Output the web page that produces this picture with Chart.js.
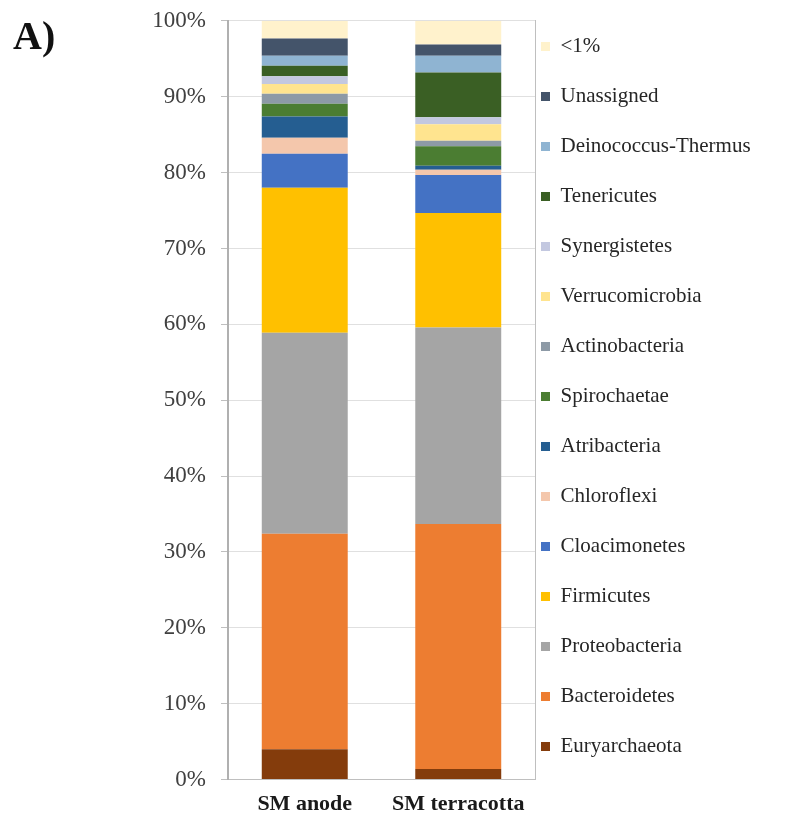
<!DOCTYPE html>
<html>
<head>
<meta charset="utf-8">
<script src="https://cdn.jsdelivr.net/npm/chart.js@4.4.1/dist/chart.umd.min.js"></script>
<style>
  html, body { margin: 0; padding: 0; background: #fff; }
  #wrap { position: relative; width: 791px; height: 822px; }
  #panel { position: absolute; left: 13px; top: 12px; font: bold 40px "Liberation Serif", serif; color: #111; }
  canvas { position: absolute; left: 0; top: 0; }
</style>
</head>
<body>
<div id="wrap">
  <canvas id="phyla" width="791" height="822"></canvas>
  <div id="panel">A)</div>
</div>
<script>
const samples = ["SM anode", "SM terracotta"];

// phyla from the bottom of the stack upwards
const phyla = [
  "Euryarchaeota", "Bacteroidetes", "Proteobacteria", "Firmicutes", "Cloacimonetes",
  "Chloroflexi", "Atribacteria", "Spirochaetae", "Actinobacteria", "Verrucomicrobia",
  "Synergistetes", "Tenericutes", "Deinococcus-Thermus", "Unassigned", "<1%"
];

// relative abundance (%) per sample, same order as phyla
const anode      = [4.0, 28.4, 26.5, 19.1, 4.5, 2.1, 2.8, 1.7, 1.3, 1.3, 1.0, 1.4, 1.3, 2.3, 2.3];
const terracotta = [1.4, 32.3, 25.9, 15.1, 5.0, 0.7, 0.5, 2.6, 0.7, 2.2, 0.9, 5.9, 2.2, 1.5, 3.1];

const colors = [
  "#843c0c", "#ed7d31", "#a5a5a5", "#ffc000", "#4472c4",
  "#f4c7ac", "#255e91", "#4b7d32", "#8d9aa6", "#ffe48f",
  "#c3c8e0", "#3a5f24", "#8fb4d2", "#44546a", "#fff2cc"
];

const yTicks = [0, 10, 20, 30, 40, 50, 60, 70, 80, 90, 100];

const datasets = phyla.map((name, i) => ({
  label: name,
  data: [anode[i], terracotta[i]],
  backgroundColor: colors[i],
  borderWidth: 0,
  barPercentage: 0.56,
  categoryPercentage: 1.0
}));

// fixed legend width so the plot ends at the right place,
// then pull the legend block in next to the plot border
const legendPlace = {
  id: "legendPlace",
  beforeInit(chart) {
    const fit = chart.legend.fit;
    chart.legend.fit = function () {
      fit.call(chart.legend);
      this.width = 248;
    };
  },
  afterLayout(chart) {
    chart.legend.left = 512;
    chart.legend.top = 7;
  }
};

new Chart(document.getElementById("phyla"), {
  type: "bar",
  data: { labels: samples, datasets },
  options: {
    responsive: false,
    animation: false,
    layout: { padding: { top: 0, left: 0, right: 0, bottom: 0 } },
    scales: {
      x: {
        stacked: true,
        grid: { display: false },
        border: { color: "#bfbfbf" },
        ticks: { color: "#1a1a1a", font: { family: "Liberation Serif", size: 22, weight: "bold", lineHeight: 0.93 }, padding: 7 }
      },
      y: {
        stacked: true,
        min: 0,
        max: 100,
        afterBuildTicks(axis) { axis.ticks = yTicks.map(v => ({ value: v })); },
        afterFit(axis) { axis.width = 228; },
        grid: { color: "#e0e0e0", tickLength: 7, tickColor: "#bfbfbf" },
        border: { color: "#b0b0b0", width: 2 },
        ticks: {
          color: "#404040",
          font: { family: "Liberation Serif", size: 23, lineHeight: 0.52 },
          padding: 15,
          callback: v => v + "%"
        }
      },
      y2: {
        position: "right",
        min: 0,
        max: 100,
        grid: { display: false },
        border: { color: "#bfbfbf" },
        ticks: { display: false }
      }
    },
    plugins: {
      legend: {
        position: "right",
        align: "start",
        reverse: true,
        labels: {
          boxWidth: 9,
          boxHeight: 9,
          padding: 29,
          color: "#262626",
          font: { family: "Liberation Serif", size: 21 }
        }
      },
      tooltip: { enabled: false }
    }
  },
  plugins: [legendPlace]
});
</script>
</body>
</html>
